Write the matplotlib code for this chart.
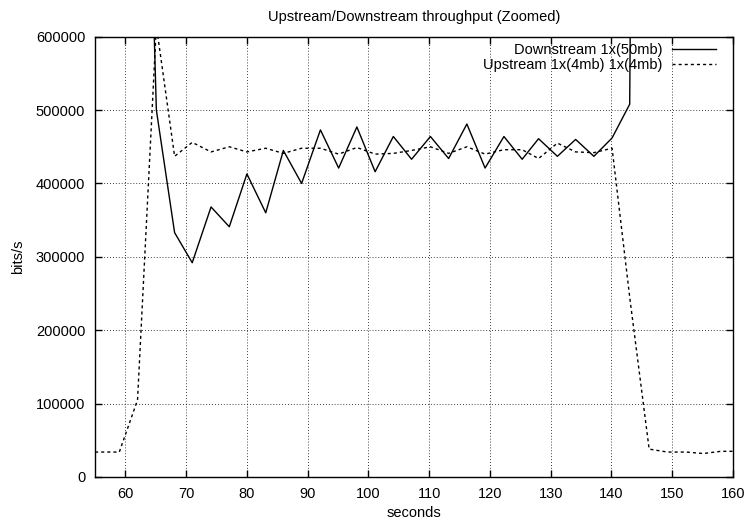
import matplotlib
matplotlib.use("Agg")
import matplotlib.pyplot as plt
from matplotlib.ticker import MultipleLocator

plt.rcParams['font.family'] = ['Liberation Sans', 'DejaVu Sans']
plt.rcParams['font.size'] = 10.5

# downstream 1x(50mb), solid
down_t = [62, 65.1, 68.1, 71.0, 74.1, 77.1, 80.0, 83.1, 86.0, 89.0, 92.1, 95.1,
          98.1, 101.1, 104.1, 107.1, 110.2, 113.2, 116.2, 119.2, 122.3, 125.3,
          128.0, 131.1, 134.1, 137.1, 140.1, 143.0, 146.0]
down_bps = [1400000, 500000, 333000, 292000, 368000, 341000, 413000, 360000,
            445000, 400000, 473000, 421000, 477000, 416000, 464000, 433000,
            464000, 434000, 481000, 421000, 464000, 433000, 461000, 437000,
            460000, 437000, 462000, 508000, 4000000]

# upstream 1x(4mb) 1x(4mb), dashed
up_t = [53, 56, 59, 62, 65.1, 68.1, 71.0, 74.1, 77.1, 80.0, 83.1, 86.0, 89.0,
        92.1, 95.1, 98.1, 101.1, 104.1, 107.1, 110.2, 113.2, 116.2, 119.2,
        122.3, 125.3, 128.0, 131.1, 134.1, 137.1, 140.1, 143.0, 146.2, 149.2,
        152.3, 155.1, 158.0, 161]
up_bps = [34000, 34000, 34000, 105000, 615000, 437000, 456000, 443000, 450000,
          443000, 448000, 441000, 448000, 448000, 440000, 449000, 440000,
          441000, 445000, 450000, 441000, 450000, 440000, 446000, 446000,
          434000, 455000, 443000, 442000, 448000, 245000, 38000, 34000,
          34000, 32000, 35000, 35000]

fig = plt.figure(figsize=(7.49, 5.25), dpi=100)
ax = fig.add_axes([95 / 749, 1 - 477 / 525, 638 / 749, 440.3 / 525])

ax.plot(down_t, down_bps, color='black', lw=1.0, label='Downstream 1x(50mb)')
ax.plot(up_t, up_bps, color='black', lw=1.0, linestyle=(0, (2.2, 2.2)),
        label='Upstream 1x(4mb) 1x(4mb)')

ax.set_xlim(55, 160)
ax.set_ylim(0, 600000)
ax.xaxis.set_major_locator(MultipleLocator(10))
ax.yaxis.set_major_locator(MultipleLocator(100000))
ax.ticklabel_format(style='plain', useOffset=False)
ax.tick_params(direction='in', length=5, width=1, top=True, right=True, pad=7)
ax.grid(True, color='black', lw=0.6, linestyle=(0, (1, 2.5)))
for s in ax.spines.values():
    s.set_linewidth(1.0)

ax.set_title('Upstream/Downstream throughput (Zoomed)', fontsize=10.5, pad=11)
ax.set_xlabel('seconds', labelpad=4)
ax.set_ylabel('bits/s', labelpad=8)

ax.legend(loc='upper right', bbox_to_anchor=(1 - 17 / 638, 1 - 6 / 440),
          markerfirst=False, frameon=False, borderpad=0, borderaxespad=0,
          handlelength=3, handletextpad=0.7, labelspacing=0.1)

fig.savefig('out.png', dpi=100)
